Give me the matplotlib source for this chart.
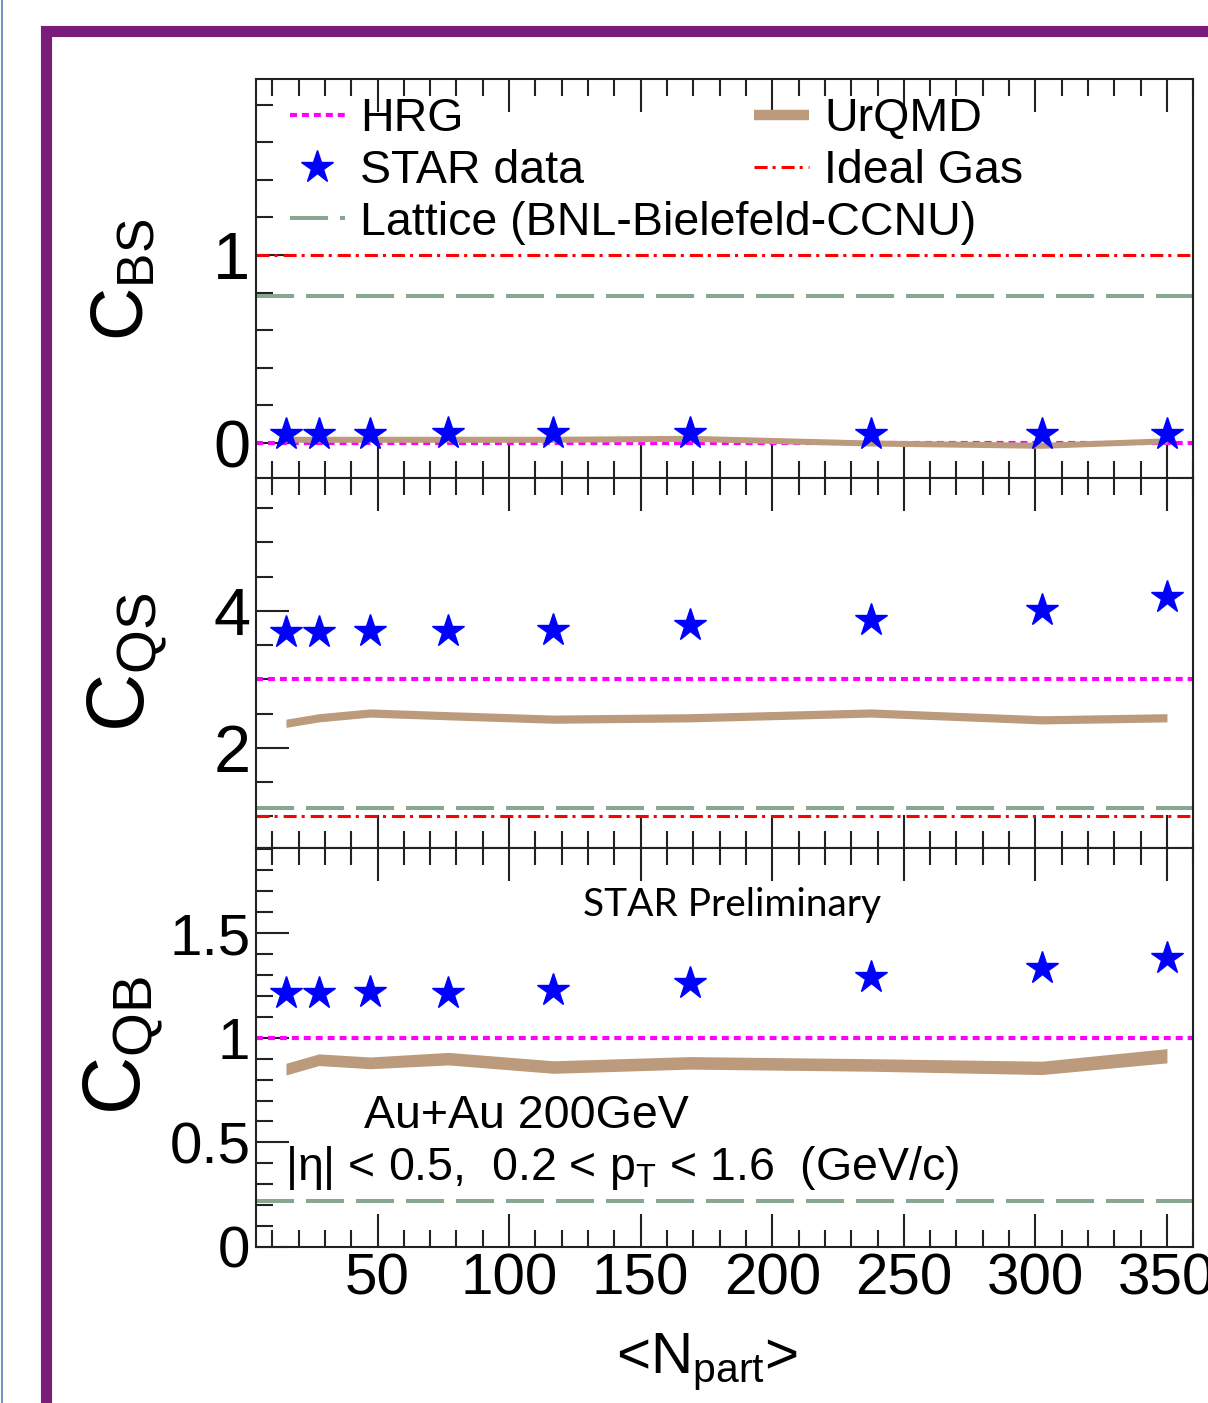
import numpy as np
import matplotlib
matplotlib.use("Agg")
import matplotlib.pyplot as plt
from matplotlib.patches import Rectangle
from matplotlib.lines import Line2D
from matplotlib.ticker import MultipleLocator

plt.rcParams['font.family'] = ['Liberation Sans', 'DejaVu Sans']
plt.rcParams['mathtext.fontset'] = 'custom'
plt.rcParams['mathtext.rm'] = 'Liberation Sans'
plt.rcParams['mathtext.it'] = 'Liberation Sans:italic'
plt.rcParams['lines.scale_dashes'] = False

# centrality classes
npart = [15.2, 27.7, 47.2, 76.9, 116.8, 168.6, 237.5, 302.5, 350.0]

# STAR measurements
star_bs = [0.05, 0.05, 0.05, 0.055, 0.055, 0.055, 0.05, 0.05, 0.05]
star_qs = [3.69, 3.69, 3.71, 3.71, 3.72, 3.80, 3.87, 4.01, 4.20]
star_qb = [1.215, 1.215, 1.22, 1.215, 1.23, 1.26, 1.29, 1.335, 1.38]

# UrQMD bands (centre, half width)
urqmd_bs = [0.02, 0.02, 0.02, 0.02, 0.02, 0.025, 0.0, -0.012, 0.012]
urqmd_bs_err = [0.016] * 9
urqmd_qs = [2.36, 2.44, 2.51, 2.47, 2.42, 2.44, 2.51, 2.41, 2.44]
urqmd_qs_err = [0.06] * 9
urqmd_qb = [0.85, 0.895, 0.88, 0.90, 0.86, 0.88, 0.87, 0.856, 0.914]
urqmd_qb_err = [0.028, 0.028, 0.028, 0.03, 0.03, 0.03, 0.03, 0.032, 0.034]

# constant references: BS, QS, QB
hrg = [0.0, 3.0, 1.0]
ideal_gas = [1.0, 1.0, None]
lattice = [0.78, 1.12, 0.22]

c_hrg = '#ff00ff'
c_ideal = '#ff0000'
c_lat = '#88a690'
c_urqmd = '#bc9a7c'
c_star = '#0000ff'

hrg_style = dict(color=c_hrg, lw=3.0, dashes=(5.0, 3.6))
ideal_style = dict(color=c_ideal, lw=2.2, dashes=(9.4, 3.6, 2.2, 4.3))
lat_style = dict(color=c_lat, lw=2.9, dashes=(27.4, 8.6))

fig = plt.figure(figsize=(12.08, 14.03), dpi=100)

L, W = 0.2119, 0.7759
axes = [fig.add_axes([L, 0.6593, W, 0.2844]),
        fig.add_axes([L, 0.3956, W, 0.2637]),
        fig.add_axes([L, 0.1112, W, 0.2844])]

ylims = [(-0.186, 1.936), (0.54, 5.94), (0.0, 1.907)]
ymajor = [1.0, 2.0, 0.5]
yminor = [0.2, 0.5, 0.1]
ysize = [48, 48, 42]
stars = [star_bs, star_qs, star_qb]
bands = [(urqmd_bs, urqmd_bs_err), (urqmd_qs, urqmd_qs_err), (urqmd_qb, urqmd_qb_err)]

for i, ax in enumerate(axes):
    ax.axhline(hrg[i], zorder=2, **hrg_style)
    if ideal_gas[i] is not None:
        ax.axhline(ideal_gas[i], zorder=2, **ideal_style)
    ax.axhline(lattice[i], zorder=2, **lat_style)
    c, e = np.array(bands[i][0]), np.array(bands[i][1])
    ax.fill_between(npart, c - e, c + e, color=c_urqmd, lw=0, zorder=3)
    ax.plot(npart, stars[i], ls='none', marker='*', ms=24.5, color=c_star,
            mec=c_star, zorder=4)

    ax.set_xlim(3.8, 360)
    ax.set_ylim(*ylims[i])
    ax.xaxis.set_major_locator(MultipleLocator(50))
    ax.xaxis.set_minor_locator(MultipleLocator(10))
    ax.yaxis.set_major_locator(MultipleLocator(ymajor[i]))
    ax.yaxis.set_minor_locator(MultipleLocator(yminor[i]))
    ax.tick_params(which='both', direction='in', top=True, bottom=True,
                   left=True, right=False, width=1.5, color='#222222')
    ax.tick_params(which='major', length=24)
    ax.tick_params(which='minor', length=12)
    ax.tick_params(axis='y', labelsize=ysize[i], pad=4)
    ax.tick_params(axis='x', labelsize=42, pad=4)
    for s in ax.spines.values():
        s.set_linewidth(1.5)
        s.set_color('#222222')
    if i < 2:
        ax.tick_params(axis='x', labelbottom=False)

axes[0].set_yticks([0, 1])
axes[0].set_yticklabels(['0', '1'])
axes[1].set_yticks([2, 4])
axes[1].set_yticklabels(['2', '4'])
axes[2].set_yticks([0, 0.5, 1, 1.5])
axes[2].set_yticklabels(['0', '0.5', '1', '1.5'])

# legend
h_hrg = Line2D([], [], **hrg_style)
h_star = Line2D([], [], ls='none', marker='*', ms=24.5, color=c_star)
h_lat = Line2D([], [], **lat_style)
h_urqmd = Line2D([], [], color=c_urqmd, lw=7.5, solid_capstyle='butt')
h_ideal = Line2D([], [], **ideal_style)

leg_kw = dict(loc='upper left', frameon=False, borderpad=0, borderaxespad=0,
              handlelength=1.18, handletextpad=0.33, labelspacing=0.17,
              fontsize=33.5)
leg1 = axes[0].legend([h_hrg, h_star, h_lat],
                      ['HRG', 'STAR data', 'Lattice (BNL-Bielefeld-CCNU)'],
                      bbox_to_anchor=(0.0363, 0.955), **leg_kw)
axes[0].add_artist(leg1)
axes[0].legend([h_urqmd, h_ideal], ['UrQMD', 'Ideal Gas'],
               bbox_to_anchor=(0.531, 0.955), **leg_kw)

# y labels
fig.text(123 / 1208, 1 - 280 / 1403, r'$\mathregular{C_{BS}}$', rotation=90,
         ha='center', va='center', fontsize=53)
fig.text(128 / 1208, 1 - 662 / 1403, r'$\mathregular{C_{QS}}$', rotation=90,
         ha='center', va='center', fontsize=58)
fig.text(124 / 1208, 1 - 1045 / 1403, r'$\mathregular{C_{QB}}$', rotation=90,
         ha='center', va='center', fontsize=58)

# x label
fig.text(707 / 1208, 1 - 1362 / 1403, r'<N$_\mathregular{part}$>',
         ha='center', va='center', fontsize=42)

# annotations in the QB panel
ax = axes[2]
ax.text(184.6, 1.584, 'STAR Preliminary', family='Lato', fontsize=28,
        ha='center', va='baseline')
ax.text(106.5, 0.569, 'Au+Au 200GeV', fontsize=33.5, ha='center', va='baseline')
ax.text(0.031, 0.32, r'|η| < 0.5,  0.2 < p$_\mathregular{T}$ < 1.6  (GeV/c)',
        transform=ax.get_yaxis_transform(),
        fontsize=33.5, ha='left', va='baseline')

# slide frame
fig.patches.append(Rectangle((45.5 / 1208, -0.05), 1.1, 1 - 31 / 1403 + 0.05,
                             transform=fig.transFigure, fill=False,
                             edgecolor='#7b1c7a', lw=8.0))
fig.lines.append(Line2D([1.5 / 1208, 1.5 / 1208], [0, 1], transform=fig.transFigure,
                        color='#5a7bb0', lw=1.2))

fig.savefig('out.png', dpi=100)
